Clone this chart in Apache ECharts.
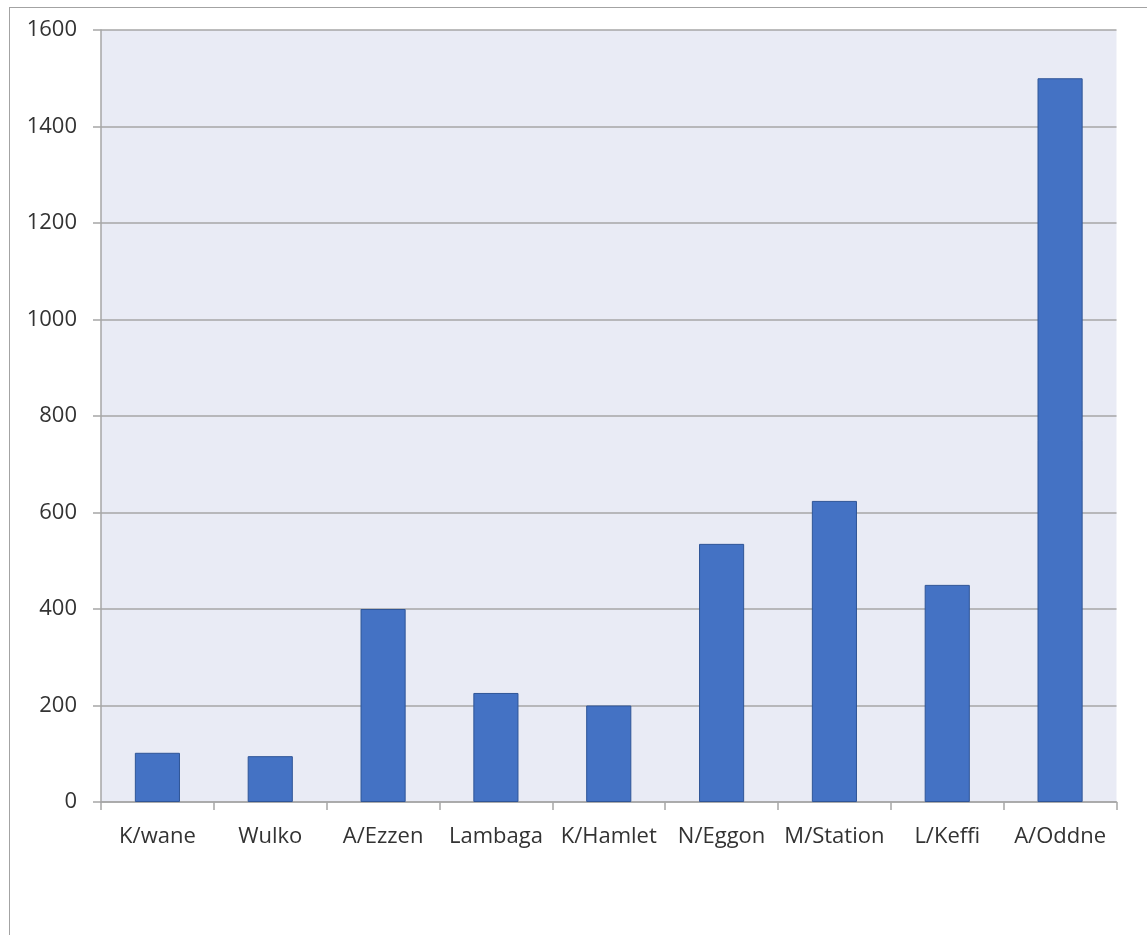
<!DOCTYPE html>
<html>
<head>
<meta charset="utf-8">
<script src="https://cdn.jsdelivr.net/npm/echarts@6/dist/echarts.min.js"></script>
<style>
    html, body {
        margin: 0;
        padding: 0;
        background: #ffffff;
    }

    .frame {
        position: absolute;
        left: 9px;
        top: 7px;
        width: 1138px;
        height: 928px;
        border-left: 1.5px solid #a3a3a3;
        border-top: 1.5px solid #a3a3a3;
    }

    #chart {
        position: absolute;
        left: 0;
        top: 0;
        width: 1147px;
        height: 935px;
    }
</style>
</head>
<body>
<div class="frame"></div>
<div id="chart"></div>
<script>
// data
const categories = ['K/wane', 'Wulko', 'A/Ezzen', 'Lambaga', 'K/Hamlet', 'N/Eggon', 'M/Station', 'L/Keffi', 'A/Oddne'];
const values = [102, 95, 400, 226, 200, 535, 624, 450, 1500];
const yTicks = { min: 0, max: 1600, interval: 200 };

const chart = echarts.init(document.getElementById('chart'));

const labelStyle = {
    color: '#333333',
    fontSize: 22,
    fontFamily: '"Open Sans", "Noto Sans", sans-serif'
};

let option = {
    animation: false,
    grid: {
        left: 101,
        right: 30.5,
        top: 30,
        bottom: 133,
        show: true,
        backgroundColor: '#e9ebf5',
        borderWidth: 0
    },
    xAxis: {
        type: 'category',
        data: categories,
        boundaryGap: true,
        axisLine: {
            show: true,
            lineStyle: { color: '#a6a6a6', width: 1.5 }
        },
        axisTick: {
            show: true,
            alignWithLabel: false,
            length: 8,
            lineStyle: { color: '#a6a6a6', width: 1.5 }
        },
        axisLabel: Object.assign({ margin: 24, interval: 0 }, labelStyle),
        splitLine: { show: false }
    },
    yAxis: {
        type: 'value',
        min: yTicks.min,
        max: yTicks.max,
        interval: yTicks.interval,
        axisLine: {
            show: true,
            lineStyle: { color: '#a6a6a6', width: 1.5 }
        },
        axisTick: {
            show: true,
            length: 8,
            lineStyle: { color: '#a6a6a6', width: 1.5 }
        },
        // plain numbers, no thousands separator
        axisLabel: Object.assign({ margin: 24, formatter: v => String(v) }, labelStyle),
        splitLine: {
            show: true,
            lineStyle: { color: '#a6a6a6', width: 1.5 }
        }
    },
    series: [
        {
            type: 'bar',
            data: values,
            barWidth: '40%',
            itemStyle: {
                color: '#4472c4',
                borderColor: '#2f5597',
                borderWidth: 1
            }
        }
    ]
};

chart.setOption(option);
</script>
</body>
</html>
